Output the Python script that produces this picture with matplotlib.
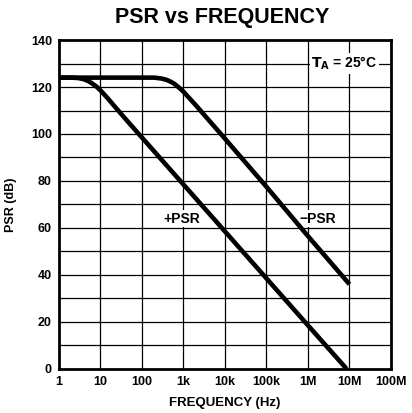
import matplotlib
matplotlib.use('Agg')
import matplotlib.pyplot as plt
import numpy as np

plt.rcParams['font.family'] = ['Liberation Sans', 'DejaVu Sans']
plt.rcParams['font.weight'] = 'bold'

# +PSR curve
pos_freq = [1, 2, 3, 4, 5, 6, 8, 10, 15, 20, 30, 50, 100, 1e3, 1e4, 1e5, 1e6, 8.5e6]
pos_psr = [124, 124, 123.8, 123.3, 122.6, 121.8, 120.2, 118.6, 115.2, 112.6, 109.0, 104.5, 98.5, 78.5, 58.5, 38.5, 18.5, 0]

# -PSR curve
neg_freq = [1, 100, 200, 300, 400, 500, 600, 800, 1e3, 1.5e3, 2e3, 3e3, 1e4, 1e5, 1e6, 1e7]
neg_psr = [124, 124, 124, 123.6, 123.0, 122.2, 121.4, 119.6, 118.0, 114.6, 112.2, 108.6, 98.0, 77.5, 56.5, 36]

xticks = [1, 10, 100, 1e3, 1e4, 1e5, 1e6, 1e7, 1e8]
xtick_labels = ['1', '10', '100', '1k', '10k', '100k', '1M', '10M', '100M']
yticks = list(range(0, 141, 20))

fig = plt.figure(figsize=(4.12, 4.13), dpi=100)
ax = fig.add_axes([0.143, 0.107, 0.806, 0.796])

ax.set_xscale('log')
ax.set_xlim(1, 1e8)
ax.set_ylim(0, 140)

# grid: every decade, every 10 dB
for xv in xticks[1:-1]:
    ax.axvline(xv, color='black', lw=0.9, zorder=1)
for yv in range(10, 140, 10):
    ax.axhline(yv, color='black', lw=0.9, zorder=1)

ax.plot(pos_freq, pos_psr, color='black', lw=3.3, solid_capstyle='butt', zorder=3)
ax.plot(neg_freq, neg_psr, color='black', lw=3.3, solid_capstyle='butt', zorder=3)

ax.set_xticks(xticks)
ax.set_xticklabels(xtick_labels)
ax.minorticks_off()
ax.set_yticks(yticks)
ax.tick_params(length=0, labelsize=9, pad=5)
for lab in ax.get_xticklabels() + ax.get_yticklabels():
    lab.set_fontweight('bold')

for s in ax.spines.values():
    s.set_linewidth(2)

ax.set_xlabel('FREQUENCY (Hz)', fontsize=9.5, fontweight='bold', labelpad=7)
ax.set_ylabel('PSR (dB)', fontsize=9, fontweight='bold', labelpad=10)
fig.text(0.54, 0.957, 'PSR vs FREQUENCY', ha='center', va='center',
         fontsize=15.5, fontweight='bold')

box = dict(facecolor='white', edgecolor='none', pad=1)
ax.text(330, 64, '+PSR', ha='left', va='center', fontsize=10,
        fontweight='bold', bbox=box, zorder=2)
ax.text(6.3e5, 64, '\u2212PSR', ha='left', va='center', fontsize=10,
        fontweight='bold', bbox=box, zorder=2)
ax.text(7.5e6, 130, r'$\mathbf{T_A}$ = 25°C', ha='center', va='center',
        fontsize=10, fontweight='bold', bbox=box, zorder=4)

fig.savefig('out.png', dpi=100)
